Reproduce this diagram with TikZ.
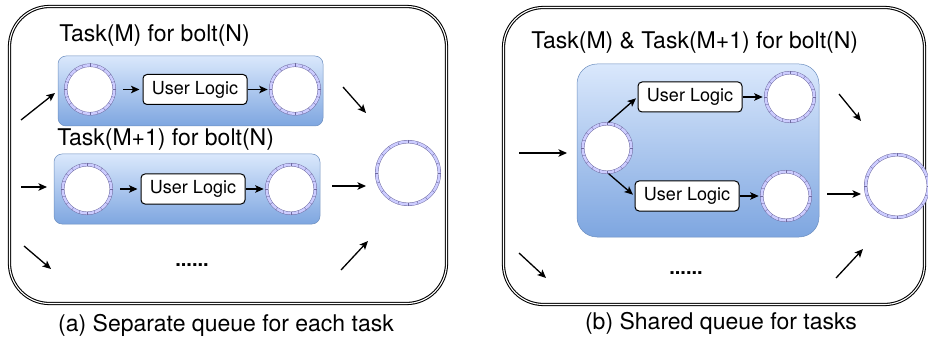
\documentclass[tikz,border=0pt]{standalone}
\usepackage{fontspec}
\setmainfont{TeX Gyre Heros}
\usetikzlibrary{arrows.meta,calc,positioning}

\definecolor{boxtop}{RGB}{218,232,252}
\definecolor{boxbot}{RGB}{126,166,224}
\definecolor{boxline}{RGB}{108,142,191}
\definecolor{qband}{RGB}{204,204,255}
\definecolor{qline}{RGB}{110,106,160}

\begin{document}
\begin{tikzpicture}[x=1pt, y=-1pt, >={Stealth[length=8.5pt,width=7.5pt,inset=2pt]}, semithick,
    frame/.style={draw, double, double distance=1.1pt, line width=1.05pt, rounded corners=40pt, inner sep=0pt},
    task/.style={draw=boxline, line width=0.5pt, top color=boxtop, bottom color=boxbot, rounded corners=#1, inner sep=0pt},
    queue/.style={circle, draw=qline, line width=0.45pt, double=qband, double distance=2.5pt, fill=white, minimum size=#1, inner sep=0pt, outer sep=0pt},
    logic/.style={draw, line width=1pt, fill=white, rounded corners=4pt, minimum width=104pt, minimum height=30pt, inner sep=0pt, font=\fontsize{18}{20}\selectfont},
    label text/.style={inner sep=0pt, font=\fontsize{23}{26}\selectfont},
    flow/.style={->, line width=1.3pt},
    qtick/.style={draw=qline, line width=0.35pt}]
    \useasboundingbox (0,0) rectangle (928,339);

    % (a) one queue pair per task
    \node[frame, minimum width=437pt, minimum height=297pt]  (pa)  at (228,155)   {};
    \node[task=8pt, minimum width=265pt, minimum height=70pt] (ta1) at (190.5,91) {};
    \node[task=8pt, minimum width=266pt, minimum height=70pt] (ta2) at (187,189)  {};
    \node[label text, anchor=west]   (ha1) at (59,36)    {Task(M) for bolt(N)};
    \node[label text, anchor=west]   (ha2) at (57,140)   {Task(M+1) for bolt(N)};
    \node[queue=48.6pt]              (qa1) at (90,89.5)  {};
    \node[logic]                     (ua1) at (195,89.5) {User Logic};
    \node[queue=48.6pt]              (qa2) at (295,89.5) {};
    \node[queue=48.6pt]              (qa3) at (87,189)   {};
    \node[logic]                     (ua2) at (193,189)  {User Logic};
    \node[queue=48.6pt]              (qa4) at (291,189)  {};
    \node[queue=62.6pt]              (qa5) at (408,173)  {};
    \node[label text, font=\fontsize{20}{22}\selectfont\bfseries] (da) at (192,265) {......};
    \node[label text]                (ca)  at (226,325)  {(a) Separate queue for each task};

    % (b) one queue shared by both tasks
    \node[frame, minimum width=421pt, minimum height=297pt]    (pb) at (714,156)   {};
    \node[task=20pt, minimum width=242pt, minimum height=173pt] (tb) at (698,150.5) {};
    \node[label text, anchor=west]   (hb)  at (531,43)   {Task(M) \& Task(M+1) for bolt(N)};
    \node[queue=48.6pt]              (qb1) at (607,148)  {};
    \node[logic]                     (ub1) at (690,97)   {User Logic};
    \node[queue=48.6pt]              (qb2) at (790,97)   {};
    \node[logic]                     (ub2) at (687,196)  {User Logic};
    \node[queue=48.6pt]              (qb3) at (786,196)  {};
    \node[queue=62.6pt]              (qb4) at (897,186)  {};
    \node[label text, font=\fontsize{20}{22}\selectfont\bfseries] (db) at (686,273) {......};
    \node[label text]                (cb)  at (721,323)  {(b) Shared queue for tasks};

    % slots round each ring
    \foreach \q in {qa1,qa2,qa3,qa4,qa5,qb1,qb2,qb3,qb4}
        \foreach \a in {0,18,...,342}
            \draw[qtick] ($(\q.\a)!1.7pt!(\q.center)$) -- ($(\q.\a)!-1.7pt!(\q.center)$);

    \draw[flow, shorten <=9pt, shorten >=3pt] (qa1) -- (ua1);
    \draw[flow, shorten >=3pt]                (ua1) -- (qa2);
    \draw[flow, shorten <=9pt, shorten >=3pt] (qa3) -- (ua2);
    \draw[flow, shorten >=3pt]                (ua2) -- (qa4);
    \draw[flow, shorten <=2pt, shorten >=2pt] (qb1.north) -- (ub1.west);
    \draw[flow, shorten <=2pt, shorten >=2pt] (qb1.south) -- (ub2.west);
    \draw[flow, shorten >=3pt]                (ub1) -- (qb2);
    \draw[flow, shorten >=3pt]                (ub2) -- (qb3);

    % loose ends, in and out
    \coordinate (ai1) at (21,120);  \coordinate (aj1) at (55,93);
    \coordinate (ai2) at (21,187);  \coordinate (aj2) at (47,187);
    \coordinate (ai3) at (24,246);  \coordinate (aj3) at (51,269);
    \coordinate (ao1) at (343,87);  \coordinate (ap1) at (366,113);
    \coordinate (ao2) at (332,186); \coordinate (ap2) at (366,186);
    \coordinate (ao3) at (341,270); \coordinate (ap3) at (368,241);
    \coordinate (bi1) at (519,153); \coordinate (bj1) at (567,153);
    \coordinate (bi2) at (519,253); \coordinate (bj2) at (546,278);
    \coordinate (bo1) at (839,94);  \coordinate (bp1) at (861,121);
    \coordinate (bo2) at (827,194); \coordinate (bp2) at (861,194);
    \coordinate (bo3) at (836,278); \coordinate (bp3) at (863,249);
    \foreach \s/\e in {ai1/aj1,ai2/aj2,ai3/aj3,ao1/ap1,ao2/ap2,ao3/ap3,bi1/bj1,bi2/bj2,bo1/bp1,bo2/bp2,bo3/bp3}
        \draw[flow] (\s) -- (\e);
\end{tikzpicture}
\end{document}
